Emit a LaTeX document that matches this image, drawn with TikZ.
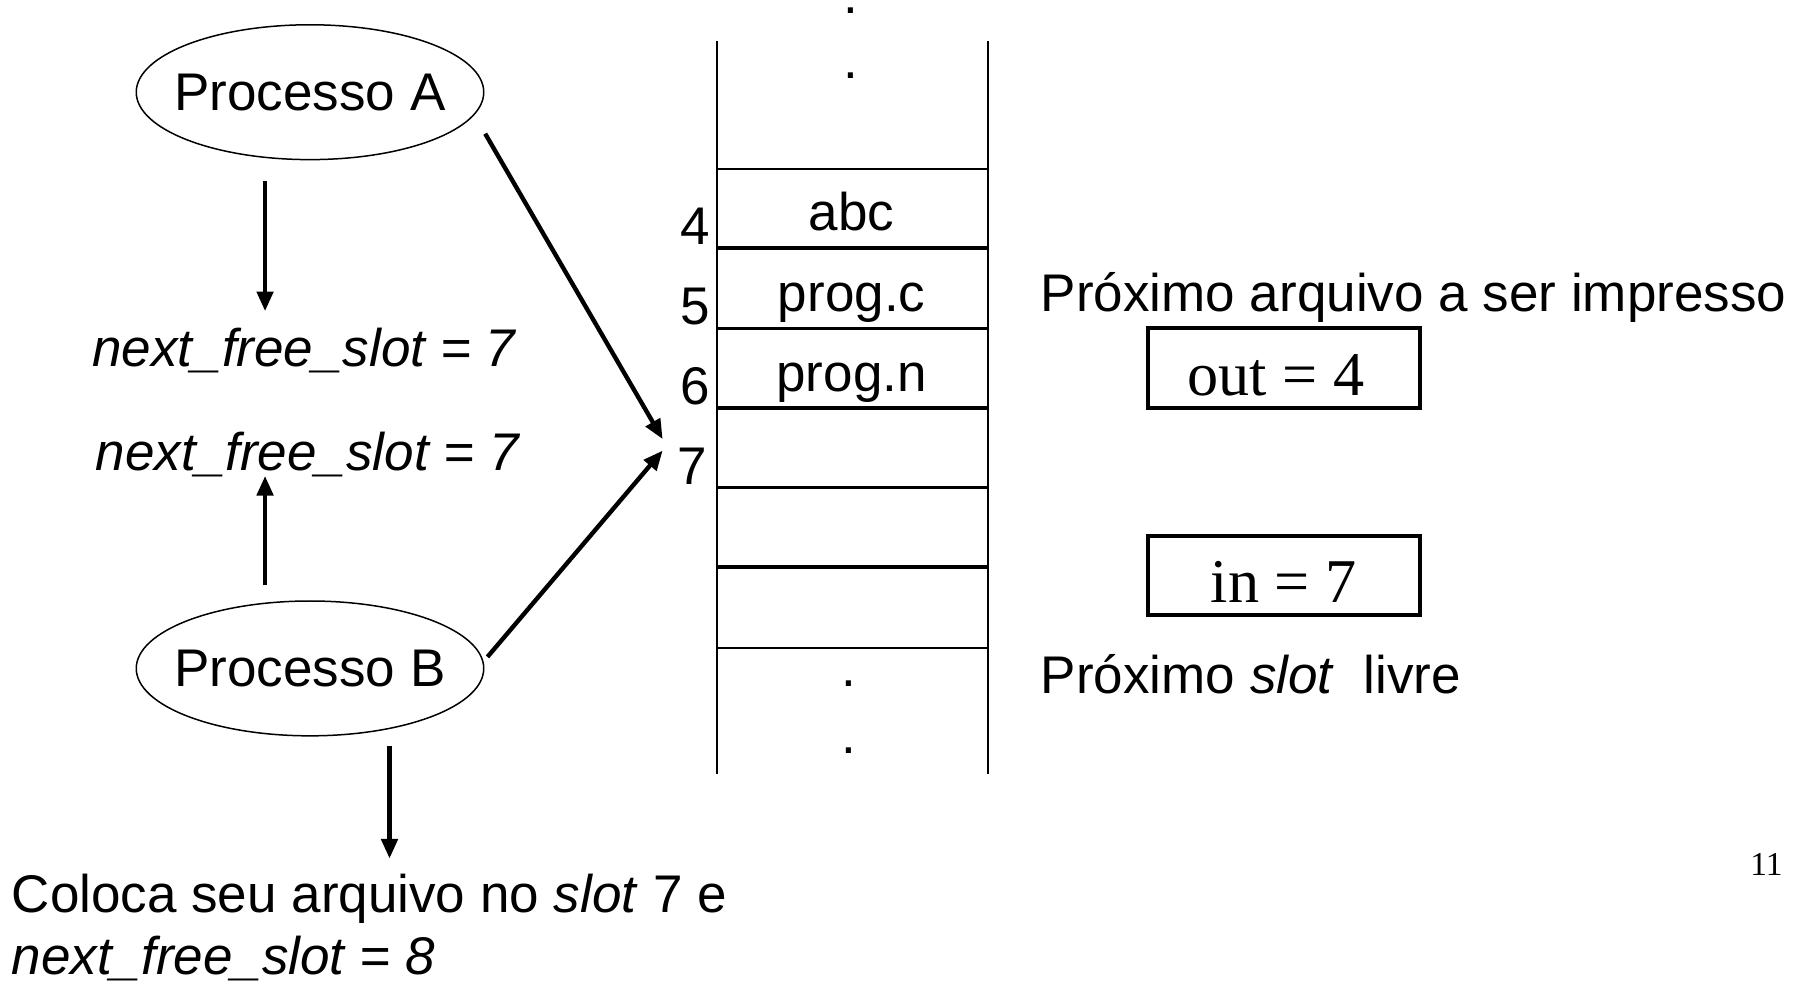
\documentclass[tikz,border=0pt]{standalone}
\usepackage{fontspec}
\setmainfont{Liberation Sans}
\newfontfamily\tms{Liberation Serif}
\usetikzlibrary{arrows.meta,shapes.geometric}
\tikzset{
  big/.style={font=\fontsize{46}{55}\selectfont, inner sep=0pt},
  lbl/.style={big, anchor=base west},
  proc/.style={ellipse, draw, line width=1.3pt, inner xsep=-11pt, inner ysep=25pt, minimum height=117pt, font=\fontsize{46}{55}\selectfont},
  arr/.style={line width=3.8pt, -{Triangle[length=17pt,width=14pt]}},
  colline/.style={line width=1.6pt},
  thick cell/.style={line width=3pt},
  varbox/.style={draw, line width=3.5pt, minimum width=236pt, minimum height=69pt, inner sep=0pt, text height=47pt, text depth=0pt, font=\tms\fontsize{54}{60}\selectfont},
  dotmark/.style={big, anchor=base}
}
\begin{document}
\begin{tikzpicture}[x=1pt,y=-1pt]
\useasboundingbox (0,0) rectangle (1568,854);

% processes
\node[proc] (A) at (269,80) {Processo A};
\node[proc] (B) at (269,580) {Processo B};

% left texts
\node[lbl] (nf1) at (80,318) {\itshape next\_free\_slot = 7};
\node[lbl] (nf2) at (83,408) {\itshape next\_free\_slot = 7};
\node[lbl] (col1) at (10,792) {Coloca seu arquivo no \textit{slot} 7 e};
\node[lbl] (col2) at (10,846) {\itshape next\_free\_slot = 8};

% column
\coordinate (ctl) at (622,36);
\coordinate (ctr) at (857,36);
\coordinate (cbl) at (622,672);
\coordinate (cbr) at (857,672);
\draw[colline] (ctl) -- (cbl);
\draw[colline] (ctr) -- (cbr);
\draw[colline] (622,147) -- (857,147);
\foreach \yy in {215,285,354,423,492} {
  \draw[thick cell] (622,\yy) -- (857,\yy);
}
\draw[colline] (622,562) -- (857,562);

% dots
\node[dotmark] (d1) at (738,12) {.};
\node[dotmark] (d2) at (738,68) {.};
\node[dotmark] (d3) at (737,596) {.};
\node[dotmark] (d4) at (737,654) {.};

% cell contents
\node[big, anchor=base] (c4) at (739,200) {abc};
\node[big, anchor=base] (c5) at (739,270) {prog.c};
\node[big, anchor=base] (c6) at (739,340) {prog.n};

% slot numbers
\node[big, anchor=base] (n4) at (603,212) {4};
\node[big, anchor=base] (n5) at (603,282) {5};
\node[big, anchor=base] (n6) at (603,351) {6};
\node[big, anchor=base] (n7) at (601,420) {7};

% right side
\node[lbl] (pa) at (903,270) {Próximo arquivo a ser impresso};
\node[varbox] (out) at (1114,319.5) {\hspace*{-14pt}out = 4};
\node[varbox] (in) at (1114,499.5) {in = 7};
\node[lbl] (ps) at (903,602) {Próximo \textit{slot}\ \ livre};
\node[font=\tms\fontsize{29}{32}\selectfont, inner sep=0pt, anchor=base east] (pg) at (1547,760) {11};

% connectors
\coordinate (a1s) at (230,157);
\coordinate (a1e) at (230,270);
\draw[arr] (a1s) -- (a1e);
\coordinate (a2s) at (421,116);
\coordinate (a2e) at (575,381);
\draw[arr] (a2s) -- (a2e);
\coordinate (b1s) at (230,508);
\coordinate (b1e) at (230,413);
\draw[arr] (b1s) -- (b1e);
\coordinate (b2s) at (423,570);
\coordinate (b2e) at (575,391);
\draw[arr] (b2s) -- (b2e);
\coordinate (b3s) at (338,647);
\coordinate (b3e) at (338,745);
\draw[arr] (b3s) -- (b3e);
\end{tikzpicture}
\end{document}
